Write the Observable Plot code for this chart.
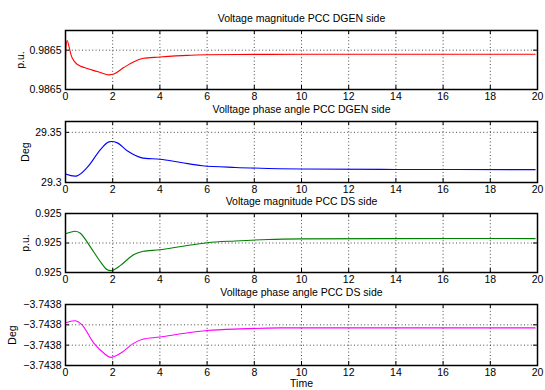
<!DOCTYPE html>
<html>
<head>
<meta charset="utf-8">
<script src="https://cdn.jsdelivr.net/npm/d3@7"></script>
<script src="https://cdn.jsdelivr.net/npm/@observablehq/plot@0.6"></script>
<style>
  html, body { margin: 0; padding: 0; background: #fff; }
  #chart { position: relative; width: 545px; height: 390px; background: #fff; }
  #chart svg { position: absolute; left: 0; top: 0; }
</style>
</head>
<body>
<div id="chart"></div>
<script>
// ---- Data ----
const xTicks = [0, 2, 4, 6, 8, 10, 12, 14, 16, 18, 20];

const titles = [
  "Voltage magnitude PCC DGEN side",
  "Volltage phase angle PCC DGEN side",
  "Voltage magnitude PCC DS side",
  "Volltage phase angle PCC DS side"
];
const yLabels = ["p.u.", "Deg", "p.u.", "Deg"];
const xLabel = "Time";

// Panel 1: voltage magnitude, DGEN side (p.u.)
const t1 = [0, 0.07, 0.28, 0.49, 0.92, 1.35, 1.77, 2.05, 2.47, 2.9, 3.3, 4.0, 5.15, 6, 8, 10, 14, 19.9];
const v1 = [0.986511, 0.9865297, 0.9865123, 0.9865057, 0.9865013, 0.9864983, 0.986495, 0.9864957,
            0.9865023, 0.9865083, 0.9865117, 0.986513, 0.9865147, 0.9865153, 0.9865157, 0.9865158,
            0.9865158, 0.9865158];
const yTicks1 = [0.98648, 0.98652];

// Panel 2: phase angle, DGEN side (deg)
const t2 = [0, 0.49, 0.92, 1.49, 1.84, 2.2, 2.63, 3.2, 4.0, 4.9, 5.8, 7.2, 8.6, 10, 14, 19.9];
const v2 = [29.3085, 29.3066, 29.315, 29.333, 29.3405, 29.3395, 29.3314, 29.3248, 29.3232, 29.3199,
            29.3167, 29.315, 29.314, 29.3134, 29.313, 29.3128];
const yTicks2 = [29.3, 29.35];

// Panel 3: voltage magnitude, DS side (p.u.)
const t3 = [0, 0.42, 0.63, 1.06, 1.49, 1.77, 1.98, 2.33, 2.9, 3.3, 4.0, 4.9, 6.0, 7.2, 8.6, 10, 14, 19.9];
const v3 = [0.9249931, 0.924994, 0.9249933, 0.9249886, 0.9249835, 0.9249809, 0.9249807, 0.9249824,
            0.9249861, 0.9249872, 0.9249877, 0.9249888, 0.9249901, 0.9249907, 0.9249912, 0.9249914,
            0.9249915, 0.9249915];
const yTicks3 = [0.92498, 0.92499, 0.925];

// Panel 4: phase angle, DS side (deg)
const t4 = [0, 0.42, 0.7, 1.2, 1.63, 1.91, 2.33, 2.9, 3.3, 4.0, 4.9, 6.0, 7.4, 9.1, 14, 19.9];
const v4 = [-3.743809, -3.743808, -3.74381, -3.743819, -3.743824, -3.743826, -3.743824, -3.743819,
            -3.743817, -3.743816, -3.7438144, -3.7438128, -3.743812, -3.7438115, -3.7438115, -3.7438115];
const yTicks4 = [-3.74383, -3.74382, -3.74381, -3.7438];

const colors = ["#ff0000", "#0000ff", "#008000", "#ff00ff"];

// ---- Layout ----
const W = 545, H = 390, L = 65, R = 537;
const boxes = [[30, 89], [121, 182], [213, 272], [304, 365]];
const yLabelX = [20, 25, 25, 12];
const fmts = [d3.format(".4~g"), d3.format(".4~g"), d3.format(".4~g"), d3.format(".5~g")];

const series = [[t1, v1, yTicks1], [t2, v2, yTicks2], [t3, v3, yTicks3], [t4, v4, yTicks4]];
const font = "'Liberation Sans', Arial, Helvetica, sans-serif";
const chart = document.getElementById("chart");

series.forEach(([t, v, yt], i) => {
  const [top, bottom] = boxes[i];
  const h = bottom - top, w = R - L;
  const data = t.map((x, k) => ({x, y: v[k]}));
  const yDomain = i === 1 ? [29.3, 29.3608] : [yt[0], yt[yt.length - 1] + (i === 0 ? 0.00002 : 0)];
  const grid = {stroke: "#000", strokeOpacity: 0.8, strokeDasharray: "1,2.4", strokeWidth: 0.9};
  const marks = [
    Plot.gridX(xTicks, grid),
    Plot.gridY(yt, grid),
    Plot.line(data, {x: "x", y: "y", stroke: colors[i], strokeWidth: 1.1, curve: "catmull-rom"}),
    Plot.tickX(xTicks, {x: d => d, insetTop: h - 4, stroke: "#000"}),
    Plot.tickX(xTicks, {x: d => d, insetBottom: h - 4, stroke: "#000"}),
    Plot.tickY(yt, {y: d => d, insetRight: w - 4, stroke: "#000"}),
    Plot.tickY(yt, {y: d => d, insetLeft: w - 4, stroke: "#000"}),
    Plot.frame({stroke: "#000", strokeWidth: 1.5}),
    Plot.axisX(xTicks, {tickSize: 0, tickPadding: 3, tickFormat: d => String(d), label: null, fontSize: 10.5}),
    Plot.axisY(yt, {tickSize: 0, tickPadding: 4, tickFormat: fmts[i], label: null, fontSize: 10.5}),
    Plot.text([titles[i]], {text: d => d, frameAnchor: "top", dy: -12, lineAnchor: "middle", fontSize: 10.5}),
    Plot.text([yLabels[i]], {text: d => d, frameAnchor: "left", rotate: -90, dx: yLabelX[i] - L,
                             textAnchor: "middle", lineAnchor: "middle", fontSize: 10.5})
  ];
  if (i === 3) {
    marks.push(Plot.text([xLabel], {text: d => d, frameAnchor: "bottom", dy: 18, lineAnchor: "middle", fontSize: 10.5}));
  }
  const svg = Plot.plot({
    width: W, height: H,
    marginLeft: L, marginRight: W - R, marginTop: top, marginBottom: H - bottom,
    style: {background: "transparent", fontFamily: font, fontSize: "10.5px", color: "#000", overflow: "visible"},
    x: {domain: [0, 20], label: null},
    y: {domain: yDomain, label: null},
    marks
  });
  chart.appendChild(svg);
});
</script>
</body>
</html>
